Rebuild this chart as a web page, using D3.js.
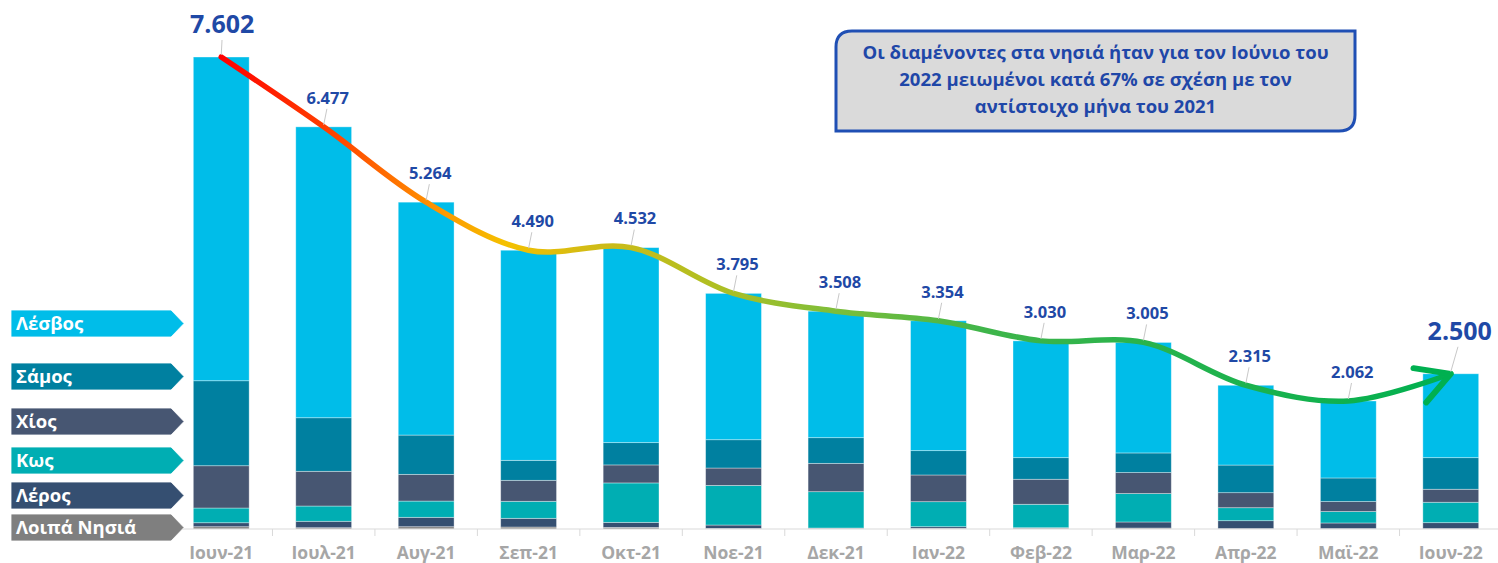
<!DOCTYPE html>
<html><head><meta charset="utf-8">
<script src="https://cdn.jsdelivr.net/npm/d3@7"></script>
<style>
html,body{margin:0;padding:0;background:#fff;}
svg{display:block;font-family:"Open Sans","Noto Sans",sans-serif;}
</style></head>
<body><svg id="c" width="1498" height="563"></svg>
<script>
const months = ["Ιουν-21","Ιουλ-21","Αυγ-21","Σεπ-21","Οκτ-21","Νοε-21","Δεκ-21","Ιαν-22","Φεβ-22","Μαρ-22","Απρ-22","Μαϊ-22","Ιουν-22"];
const totals = [7602,6477,5264,4490,4532,3795,3508,3354,3030,3005,2315,2062,2500];
const totalLabels = ["7.602","6.477","5.264","4.490","4.532","3.795","3.508","3.354","3.030","3.005","2.315","2.062","2.500"];
const other  = [37,21,37,32,26,8,10,10,16,16,5,5,5];
const leros  = [64,103,151,140,81,56,6,27,5,97,129,92,97];
const kos    = [237,246,262,274,635,638,585,403,377,458,209,184,329];
const chios  = [681,559,430,338,290,280,456,430,403,338,242,161,209];
const samos  = [1369,863,633,322,359,456,414,392,348,316,445,380,509];
const lesvos = totals.map((t,i)=>t-other[i]-leros[i]-kos[i]-chios[i]-samos[i]);
const seriesNames = ["Λοιπά Νησιά","Λέρος","Κως","Χίος","Σάμος","Λέσβος"];
const seriesData = [other,leros,kos,chios,samos,lesvos];
const seriesColors = ["#7f7f7f","#354f71","#00aeb3","#475672","#0080a0","#00bde9"];
const calloutLines = ["Οι διαμένοντες στα νησιά ήταν για τον Ιούνιο του","2022 μειωμένοι κατά 67% σε σχέση με τον","αντίστοιχο μήνα του 2021"];

const svg = d3.select("#c");
const baseY = 529;
const x = d3.scaleBand().domain(months).range([170,1502]).paddingInner(0.455).paddingOuter(0.2275);
const y = d3.scaleLinear().domain([0,7602]).range([baseY,57]);

// stacked bars
const rows = months.map((m,i)=>{const o={month:m}; seriesNames.forEach((s,k)=>o[s]=seriesData[k][i]); return o;});
const stack = d3.stack().keys(seriesNames)(rows);
svg.append("g").selectAll("g").data(stack).join("g")
  .attr("fill",(d,i)=>seriesColors[i])
  .selectAll("rect").data(d=>d).join("rect")
  .attr("x",d=>x(d.data.month)).attr("width",x.bandwidth())
  .attr("y",d=>y(d[1])).attr("height",d=>Math.max(0,y(d[0])-y(d[1])))
  .attr("stroke","rgba(255,255,255,0.45)").attr("stroke-width",0.8);

// x axis
const ax = svg.append("g").attr("transform",`translate(0,${baseY})`);
ax.append("line").attr("x1",170).attr("x2",1498).attr("stroke","#d9d9d9").attr("stroke-width",1.2);
const step = x.step();
ax.selectAll("line.tk").data(months.slice(1)).join("line").attr("class","tk")
  .attr("x1",d=>x(d)-(step-x.bandwidth())/2).attr("x2",d=>x(d)-(step-x.bandwidth())/2)
  .attr("y1",0).attr("y2",7).attr("stroke","#d9d9d9");
ax.selectAll("text").data(months).join("text")
  .attr("x",d=>x(d)+x.bandwidth()/2).attr("y",29.5)
  .attr("text-anchor","middle").attr("fill","#a6a6a6").attr("font-weight","bold").attr("font-size",17.5)
  .text(d=>d);

// gradient line
const defs = svg.append("defs");
const cx = i=>x(months[i])+x.bandwidth()/2;
const grad = defs.append("linearGradient").attr("id","lg").attr("gradientUnits","userSpaceOnUse")
  .attr("x1",cx(0)).attr("x2",cx(12)).attr("y1",0).attr("y2",0);
[[0,"#ff0000"],[0.1,"#ff4a00"],[0.17,"#ff9000"],[0.23,"#f5c000"],[0.31,"#cdbb18"],[0.4,"#b0bf22"],[0.5,"#7dbe3a"],[0.62,"#3fb54a"],[1,"#00b050"]]
  .forEach(s=>grad.append("stop").attr("offset",s[0]).attr("stop-color",s[1]));
defs.append("marker").attr("id","arr").attr("viewBox","0 0 12 12").attr("refX",10).attr("refY",6)
  .attr("markerWidth",8).attr("markerHeight",8).attr("orient","auto").attr("markerUnits","strokeWidth")
  .append("path").attr("d","M1,1 L10,6 L1,11").attr("fill","none").attr("stroke","#00b050").attr("stroke-width",1.6).attr("stroke-linecap","round").attr("stroke-linejoin","round");
const line = d3.line().x((d,i)=>cx(i)).y(d=>y(d)).curve(d3.curveCatmullRom.alpha(0.5));
svg.append("path").attr("d",line(totals)).attr("fill","none").attr("stroke","url(#lg)")
  .attr("stroke-width",5.5).attr("stroke-linecap","round").attr("marker-end","url(#arr)");

// value labels with leader lines
const big = i=>i===0||i===12;
const lab = svg.append("g");
totals.forEach((t,i)=>{
  const bx = cx(i), by = y(t);
  const dx = big(i)? (i===0?1:9) : 4;
  const ly = big(i)? by-(i===0?33:43) : by-29;
  lab.append("line").attr("x1",bx+dx*0.8).attr("y1",ly+(big(i)?16:11)).attr("x2",bx).attr("y2",by-2)
    .attr("stroke","#c8c8c8").attr("stroke-width",1);
  lab.append("text").attr("x",bx+dx).attr("y",ly).attr("dy","0.35em").attr("text-anchor","middle")
    .attr("fill","#1f49a6").attr("font-weight","bold").attr("font-size",big(i)?25:16.5)
    .text(totalLabels[i]);
});

// legend chevrons
const legNames = ["Λέσβος","Σάμος","Χίος","Κως","Λέρος","Λοιπά Νησιά"];
const legColors = ["#00bde9","#0080a0","#475672","#00aeb3","#354f71","#7f7f7f"];
const legTop = [310,363,408,447,482,514];
const legH = 27;
const lg = svg.append("g");
legNames.forEach((n,i)=>{
  const t=legTop[i], x0=11, x1=171, x2=184;
  lg.append("path").attr("d",`M${x0},${t} L${x1},${t} L${x2},${t+legH/2} L${x1},${t+legH} L${x0},${t+legH} Z`)
    .attr("fill",legColors[i]).attr("stroke","#fff").attr("stroke-width",0.8);
  lg.append("text").attr("x",16).attr("y",t+legH/2).attr("dy","0.36em").attr("fill","#fff")
    .attr("font-weight","bold").attr("font-size",18.5).text(n);
});

// callout
const bx0=836,by0=31,bx1=1355,by1=131,r=16;
svg.append("path").attr("d",`M${bx0+r},${by0} L${bx1},${by0} L${bx1},${by1-r} Q${bx1},${by1} ${bx1-r},${by1} L${bx0},${by1} L${bx0},${by0+r} Q${bx0},${by0} ${bx0+r},${by0} Z`)
  .attr("fill","#dadada").attr("stroke","#1f4fb4").attr("stroke-width",3);
calloutLines.forEach((l,i)=>{
  svg.append("text").attr("x",(bx0+bx1)/2).attr("y",53+i*27).attr("dy","0.35em").attr("text-anchor","middle")
    .attr("fill","#1f47a8").attr("font-weight","bold").attr("font-size",18.5).text(l);
});
</script></body></html>
